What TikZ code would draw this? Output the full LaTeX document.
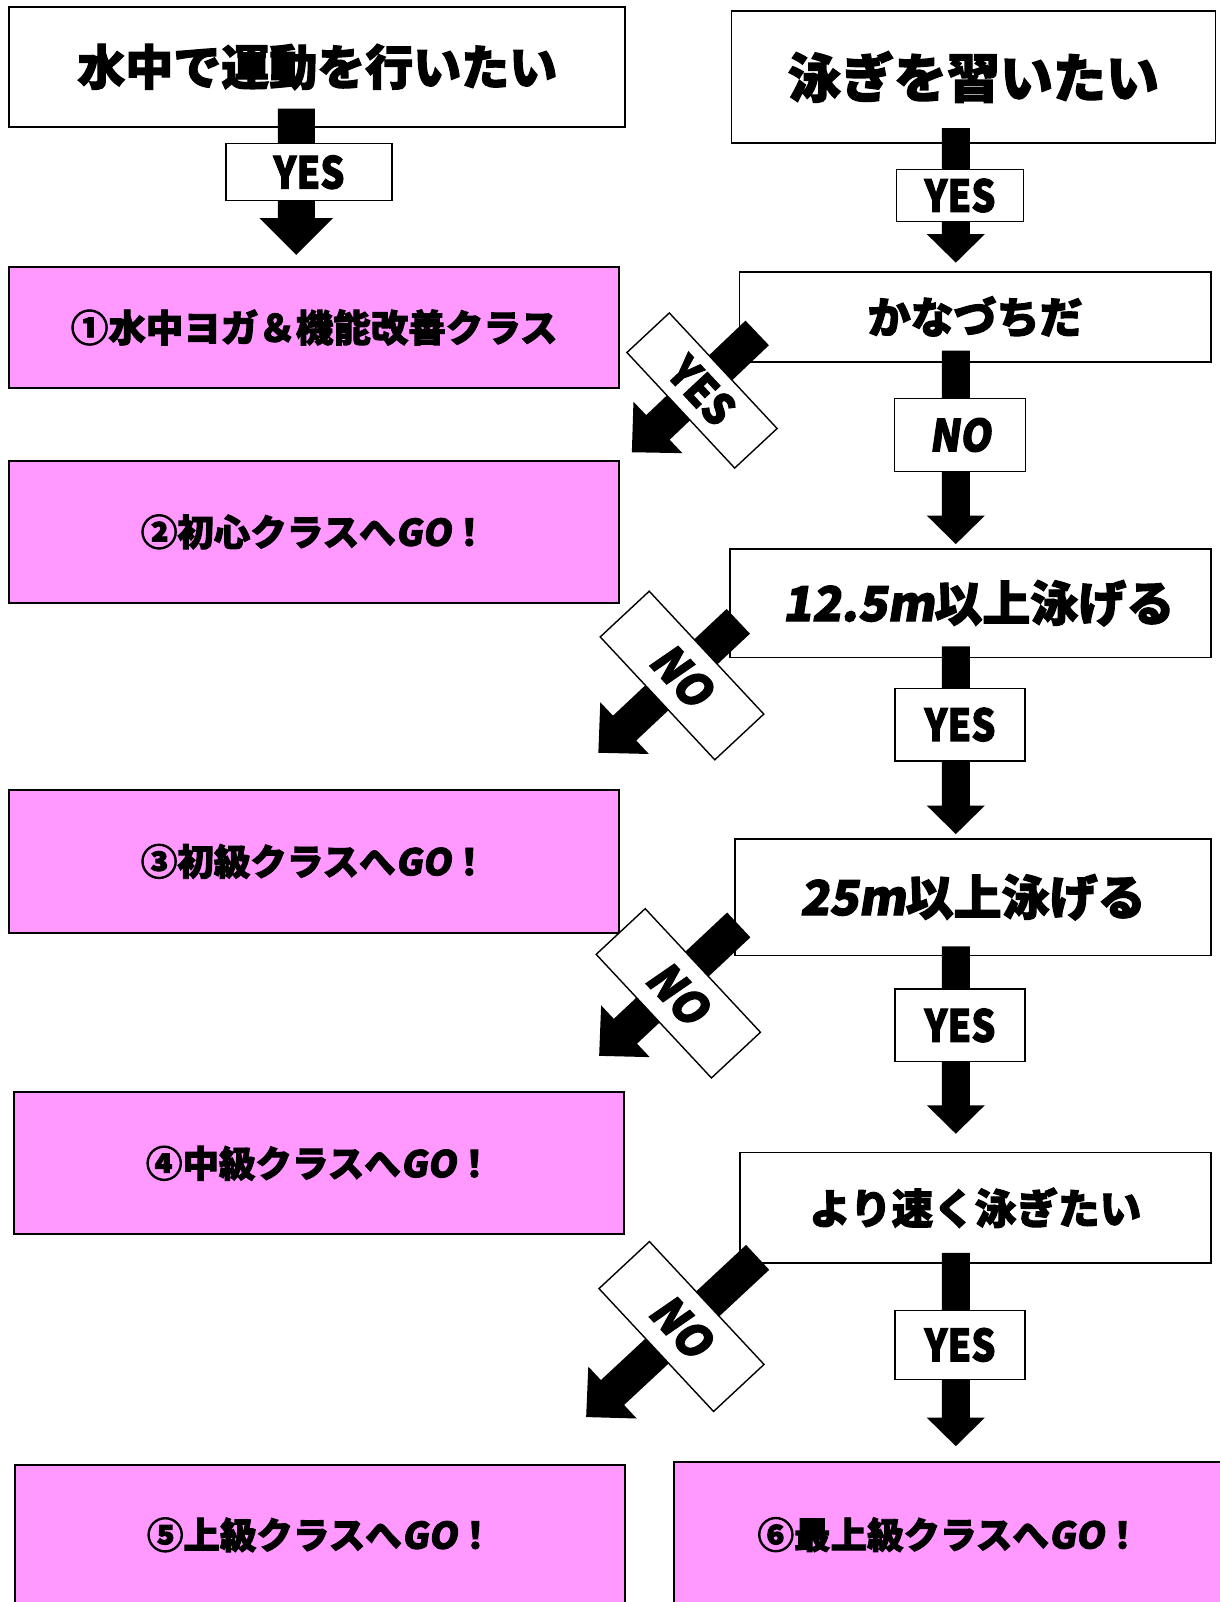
\documentclass[tikz,border=0pt]{standalone}
\usepackage{fontspec}
\usepackage{graphicx}
\newfontfamily\jp{Noto Sans CJK JP}[BoldFeatures={FakeBold=2.4}]
\newfontfamily\jpsl{Noto Sans CJK JP}[FakeSlant=0.16,BoldFeatures={FakeBold=2.4}]
\usetikzlibrary{calc}
\definecolor{pinkbox}{RGB}{255,153,255}
% block arrow: #1 tail, #2 tip, #3 shaft half width, #4 head half width, #5 head length
\newcommand{\blockarrow}[5]{%
  \coordinate (bahead) at ($(#2)!#5!(#1)$);
  \fill[black] ($(#1)!#3!90:(#2)$) -- ($(bahead)!#3!-90:(#1)$) -- ($(bahead)!#4!-90:(#1)$)
    -- (#2) -- ($(bahead)!#4!90:(#1)$) -- ($(bahead)!#3!90:(#1)$) -- ($(#1)!#3!-90:(#2)$) -- cycle;
}
\begin{document}
\begin{tikzpicture}[x=1pt,y=-1pt,
  qbox/.style={draw=black,line width=1.7pt,fill=white,inner sep=0pt},
  pbox/.style={draw=black,line width=1.7pt,fill=pinkbox,inner sep=0pt},
  lbl/.style={draw=black,line width=1.4pt,fill=white,inner sep=0pt,
    font=\jp\bfseries\fontsize{44}{50}\selectfont},
  dlbl/.style={lbl,rotate=-47},
  txt/.style={inner sep=0pt}
  ]
\useasboundingbox (0,0) rectangle (1219,1602);

% question boxes
\node[qbox,minimum width=616pt,minimum height=119.5pt,font=\jp\bfseries\fontsize{48}{54}\selectfont] (A) at (317.3,67) {水中で運動を行いたい};
\node[qbox,minimum width=484pt,minimum height=132.5pt,font=\jp\bfseries\fontsize{53}{60}\selectfont] (B) at (973.5,77) {泳ぎを習いたい};
\node[qbox,minimum width=471.3pt,minimum height=90pt,font=\jp\bfseries\fontsize{43}{50}\selectfont] (C) at (975.2,316.8) {かなづちだ};
\node[qbox,minimum width=481.5pt,minimum height=108.5pt,font=\jp\bfseries\fontsize{48}{54}\selectfont] (D) at (970.5,603.2) {\hspace*{16pt}{\jpsl\bfseries 12.5m}以上泳げる};
\node[qbox,minimum width=476pt,minimum height=116.5pt,font=\jp\bfseries\fontsize{48}{54}\selectfont] (E) at (972.8,897.2) {{\jpsl\bfseries 25m}以上泳げる};
\node[qbox,minimum width=471pt,minimum height=110.4pt,font=\jp\bfseries\fontsize{41.6}{48}\selectfont] (F) at (975.3,1207.8) {より速く泳ぎたい};

% result boxes
\node[pbox,minimum width=610pt,minimum height=121.6pt,font=\jp\bfseries\fontsize{37.5}{44}\selectfont] (P1) at (314.2,327.5) {①水中ヨガ＆機能改善クラス};
\node[pbox,minimum width=610pt,minimum height=142pt,font=\jp\bfseries\fontsize{36.5}{44}\selectfont] (P2) at (314.2,531.9) {②初心クラスへ{\jpsl\bfseries GO}！};
\node[pbox,minimum width=610pt,minimum height=143pt,font=\jp\bfseries\fontsize{36.5}{44}\selectfont] (P3) at (314.2,861.4) {③初級クラスへ{\jpsl\bfseries GO}！};
\node[pbox,minimum width=610pt,minimum height=142pt,font=\jp\bfseries\fontsize{36.5}{44}\selectfont] (P4) at (319.3,1163.3) {④中級クラスへ{\jpsl\bfseries GO}！};
\node[pbox,minimum width=610pt,minimum height=175pt] (P5) at (320.3,1552.7) {};
\node[pbox,minimum width=566pt,minimum height=178pt] (P6) at (957.2,1551) {};
\node[txt,font=\jp\bfseries\fontsize{36.5}{44}\selectfont] (T5) at ($(P5.north)+(0,70.5)$) {⑤上級クラスへ{\jpsl\bfseries GO}！};
\node[txt,font=\jp\bfseries\fontsize{36.5}{44}\selectfont] (T6) at ($(P6.north)+(-8,73.5)$) {⑥最上級クラスへ{\jpsl\bfseries GO}！};

% column references
\coordinate (colL) at (296.3,0);
\coordinate (colR) at (955.8,0);

% vertical arrows
\blockarrow{$(colL |- A.south)+(0,-19)$}{$(colL |- P1.north)+(0,-11)$}{18.5pt}{36.7pt}{36.7pt}
\blockarrow{$(colR |- B.south)+(0,-16)$}{$(colR |- C.north)+(0,-8.3)$}{14pt}{29pt}{28.5pt}
\blockarrow{$(colR |- C.south)+(0,-12)$}{$(colR |- D.north)+(0,-4)$}{14pt}{29pt}{28.5pt}
\blockarrow{$(colR |- D.south)+(0,-12)$}{$(colR |- E.north)+(0,-4)$}{14pt}{29pt}{28.5pt}
\blockarrow{$(colR |- E.south)+(0,-10)$}{$(colR |- F.north)+(0,-18)$}{14pt}{29pt}{28.5pt}
\blockarrow{$(colR |- F.south)+(0,-11)$}{$(colR |- P6.north)+(0,-15)$}{14pt}{29pt}{28.5pt}

% diagonal arrows
\blockarrow{$(C.south west)+(18.5,-29.7)$}{$(P2.north east)+(11.8,-7.8)$}{17pt}{35.5pt}{36pt}
\blockarrow{$(D.south west)+(9.4,-37)$}{$(P3.north east)+(-21.7,-36.3)$}{17pt}{35.5pt}{36pt}
\blockarrow{$(E.south west)+(4.8,-31.4)$}{$(P4.north east)+(-26,-35.6)$}{17pt}{35.5pt}{36pt}
\blockarrow{$(F.south west)+(18.7,-6.5)$}{$(P5.north west)+(571.7,-47.3)$}{17pt}{35.5pt}{36pt}

% labels on vertical arrows
\node[lbl,minimum width=166pt,minimum height=57pt] (Y1) at (309,172.2) {\scalebox{0.86}[1]{YES}};
\node[lbl,minimum width=126.6pt,minimum height=52.4pt] (Y2) at (960,195.5) {\scalebox{0.86}[1]{YES}};
\node[lbl,minimum width=131.4pt,minimum height=73.4pt,font=\jpsl\bfseries\fontsize{44}{50}\selectfont] (N1) at (960,435) {\scalebox{0.9}[1]{NO}};
\node[lbl,minimum width=130pt,minimum height=72.7pt] (Y3) at (960,724.6) {\scalebox{0.86}[1]{YES}};
\node[lbl,minimum width=130pt,minimum height=72.6pt] (Y4) at (960,1025.4) {\scalebox{0.86}[1]{YES}};
\node[lbl,minimum width=130pt,minimum height=69pt] (Y5) at (960,1344.9) {\scalebox{0.86}[1]{YES}};

% labels on diagonal arrows
\node[dlbl,minimum width=158pt,minimum height=58pt] (DY1) at (702,390.5) {\scalebox{0.9}[1]{YES}};
\node[dlbl,minimum width=168pt,minimum height=67pt,font=\jpsl\bfseries\fontsize{46}{50}\selectfont] (DN1) at (682,675.5) {\scalebox{0.92}[1]{NO}};
\node[dlbl,minimum width=169pt,minimum height=67pt,font=\jpsl\bfseries\fontsize{46}{50}\selectfont] (DN2) at (678.3,993.3) {\scalebox{0.92}[1]{NO}};
\node[dlbl,minimum width=168pt,minimum height=69pt,font=\jpsl\bfseries\fontsize{46}{50}\selectfont] (DN3) at (681.5,1326.5) {\scalebox{0.92}[1]{NO}};
\end{tikzpicture}
\end{document}
